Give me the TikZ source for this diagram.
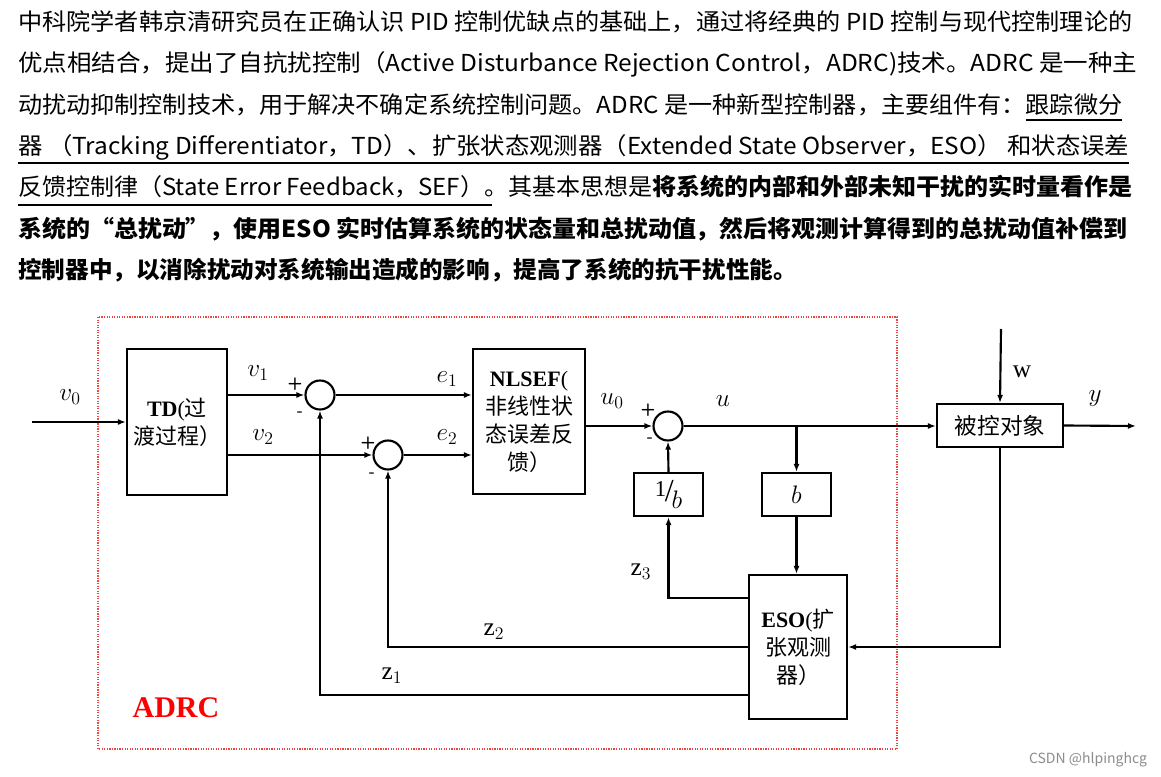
\RequirePackage{fix-cm}
\documentclass[tikz,border=0pt]{standalone}
\usepackage{fontspec}
\usepackage{graphicx}
\usetikzlibrary{arrows.meta}
\setmainfont{Liberation Serif}
\newfontfamily\cjk{Noto Sans CJK SC}
\newcommand{\pline}[3]{\node[anchor=base west, inner sep=0pt, font=\cjk\fontsize{17.5}{20}\selectfont] (#1) at (18,#2) {#3};}
\tikzset{
  box/.style={draw, line width=1.6pt, inner sep=0pt, align=center, font=\fontsize{16.5}{21}\selectfont},
  sum/.style={draw, circle, line width=1.6pt, minimum size=21.75pt, inner sep=0pt},
  arr/.style={line width=1.6pt, -{Latex[length=6pt,width=4.5pt]}},
  lbl/.style={font=\fontsize{19}{19}\selectfont, inner sep=0pt},
  sgn/.style={font=\sffamily\bfseries\fontsize{13}{13}\selectfont, inner sep=0pt},
  uline/.style={line width=1.5pt}
}
\begin{document}
\begin{tikzpicture}[x=0.75pt,y=-0.75pt]
\useasboundingbox (0,0) rectangle (1161,777);
% ---------- paragraph ----------
\pline{l1}{31}{\resizebox{835.5pt}{\height}{中科院学者韩京清研究员在正确认识 PID 控制优缺点的基础上，通过将经典的 PID 控制与现代控制理论的}}
\pline{l2}{72}{\resizebox{839.25pt}{\height}{优点相结合，提出了自抗扰控制（Active Disturbance Rejection Control，ADRC)技术。ADRC 是一种主}}
\pline{l3}{114}{\resizebox{828pt}{\height}{动扰动抑制控制技术，用于解决不确定系统控制问题。ADRC 是一种新型控制器，主要组件有：跟踪微分}}
\pline{l4}{155}{\resizebox{833.25pt}{\height}{器 （Tracking Differentiator，TD）、扩张状态观测器（Extended State Observer，ESO） 和状态误差}}
\pline{l5}{196}{\resizebox{835.5pt}{\height}{反馈控制律（State Error Feedback，SEF）。其基本思想是{\bfseries 将系统的内部和外部未知干扰的实时量看作是}}}
\pline{l6}{238}{\resizebox{831.75pt}{\height}{\bfseries 系统的“总扰动”，使用ESO 实时估算系统的状态量和总扰动值，然后将观测计算得到的总扰动值补偿到}}
\pline{l7}{279}{\resizebox{584pt}{\height}{\bfseries 控制器中，以消除扰动对系统输出造成的影响，提高了系统的抗干扰性能。}}
\coordinate (u3a) at (1026,120); \coordinate (u3b) at (1122,120);
\coordinate (u4a) at (18,163);   \coordinate (u4b) at (1129,163);
\coordinate (u5a) at (18,205);   \coordinate (u5b) at (492,205);
\draw[uline] (u3a) -- (u3b);
\draw[uline] (u4a) -- (u4b);
\draw[uline] (u5a) -- (u5b);
% ---------- ADRC frame ----------
\draw[draw={rgb,255:red,235;green,70;blue,70}, densely dotted, line width=0.9pt] (98,317) rectangle (897,749);
\node[font=\bfseries\fontsize{22.5}{22.5}\selectfont, text=red, inner sep=0pt] (adrc) at (176,708) {ADRC};
% ---------- blocks ----------
\node[box, minimum width=75pt, minimum height=109.5pt] (TD) at (177,422) {{\bfseries TD}({\cjk 过}\\{\cjk 渡过程）}};
\node[box, minimum width=84pt, minimum height=108.75pt] (NL) at (529,421.5) {{\bfseries NLSEF}(\\{\cjk 非线性状}\\{\cjk 态误差反}\\{\cjk 馈）}};
\node[box, minimum width=51.75pt, minimum height=32.25pt] (IB) at (668.5,494.5) {\raisebox{4pt}{\fontsize{17}{17}\selectfont 1}\kern-1pt{\fontsize{24}{24}\selectfont/}\kern-1.5pt\raisebox{-5pt}{\fontsize{19}{19}\selectfont$b$}};
\node[box, minimum width=51.75pt, minimum height=32.25pt] (B) at (796.5,494.5) {\fontsize{19}{19}\selectfont$b$};
\node[box, minimum width=73.5pt, minimum height=108pt] (ESO) at (798,647) {{\bfseries ESO}({\cjk 扩}\\{\cjk 张观测}\\{\cjk 器）}};
\node[box, minimum width=94.5pt, minimum height=32.25pt] (P) at (1000,425.5) {{\cjk\fontsize{17}{17}\selectfont 被控对象}};
\node[sum] (s1) at (320,395) {};
\node[sum] (s2) at (388,455) {};
\node[sum] (s3) at (668,426) {};
% ---------- signs ----------
\node[sgn] (p1) at (295,384) {+};
\node[sgn] (m1) at (300,414) {-};
\node[sgn] (p2) at (368,443) {+};
\node[sgn] (m2) at (372,475) {-};
\node[sgn] (p3) at (648,410) {+};
\node[sgn] (m3) at (650,440) {-};
% ---------- free ends ----------
\coordinate (in) at (32,422);
\coordinate (wt) at (1001,329);
\coordinate (yo) at (1136,426);
% ---------- connectors ----------
\draw[arr] (in) -- (TD.west);
\draw[arr] (TD.east |- s1) -- (s1.west);
\draw[arr] (TD.east |- s2) -- (s2.west);
\draw[arr] (s1.east) -- (NL.west |- s1);
\draw[arr] (s2.east) -- (NL.west |- s2);
\draw[arr] (NL.east |- s3) -- (s3.west);
\draw[arr] (s3.east) -- (P.west |- s3);
\draw[arr] (B.north |- s3) -- (B.north);
\draw[arr] (IB.north) -- (s3.south);
\draw[arr] (B.south) -- (B.south |- ESO.north);
\draw[arr] ([yshift=-18pt]ESO.north west) -| (IB.south);
\draw[arr] (ESO.west) -| (s2.south);
\draw[arr] ([yshift=-90.75pt]ESO.north west) -| (s1.south);
\draw[arr] (wt) -- (P.north);
\draw[arr] (P.east) -- (yo);
\draw[arr] (P.south) |- (ESO.east);
% ---------- labels ----------
\node[lbl] (lv0) at (70,397) {$v_0$};
\node[lbl] (lv1) at (258,373) {$v_1$};
\node[lbl] (lv2) at (263,437) {$v_2$};
\node[lbl] (le1) at (447,379) {$e_1$};
\node[lbl] (le2) at (447,437) {$e_2$};
\node[lbl] (lu0) at (612,401) {$u_0$};
\node[lbl] (lu) at (723,401) {$u$};
\node[lbl] (ly) at (1095,399) {$y$};
\node[lbl] (lw) at (1022,372) {w};
\node[lbl] (lz3) at (641,572) {z$_3$};
\node[lbl] (lz2) at (494,632) {z$_2$};
\node[lbl] (lz1) at (392,676) {z$_1$};
% ---------- watermark ----------
\node[font=\cjk\fontsize{10.5}{10.5}\selectfont, text=black!45, inner sep=0pt] (wm) at (1088,760) {CSDN @hlpinghcg};
\end{tikzpicture}
\end{document}
